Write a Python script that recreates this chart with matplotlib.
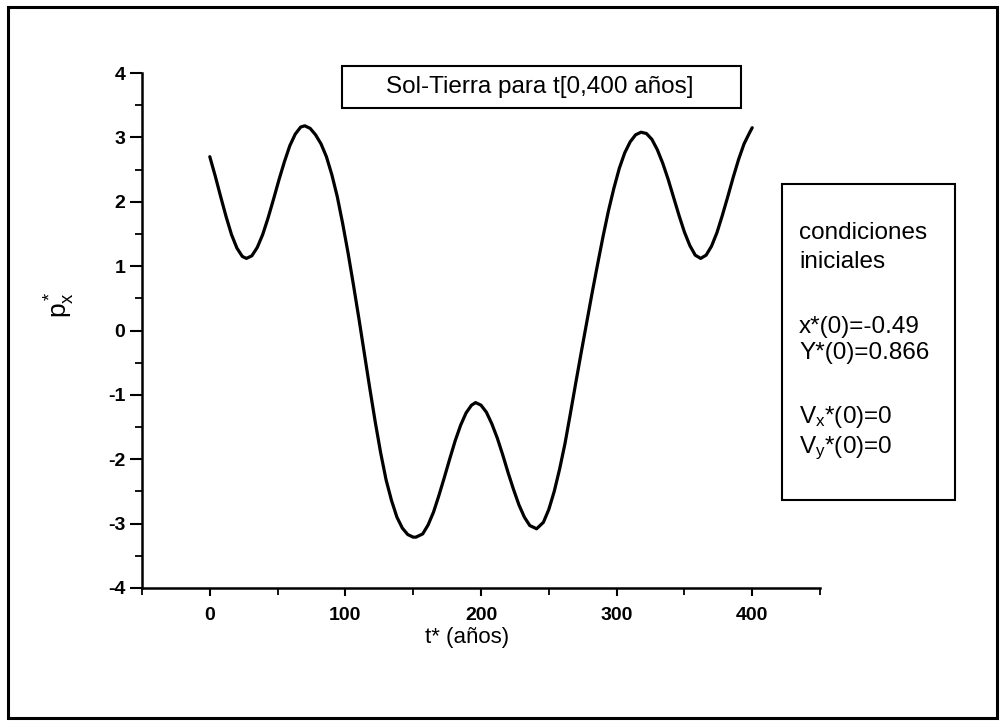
import matplotlib
matplotlib.use("Agg")
import matplotlib.pyplot as plt
from matplotlib.patches import Rectangle
from matplotlib.ticker import MultipleLocator

# ---- data ----
t_years = [0, 4, 8, 12, 16, 20, 24, 27, 31, 35, 39, 43, 47, 51, 55, 59, 63,
           67, 70, 74, 78, 82, 86, 90, 94, 98, 102, 106, 110, 114, 118, 122,
           126, 130, 134, 138, 142, 146, 150, 152, 157, 161, 165, 169, 173,
           177, 181, 185, 189, 193, 196, 200, 204, 208, 212, 216, 220, 224,
           228, 232, 236, 241, 246, 250, 254, 258, 262, 266, 270, 274, 278,
           282, 286, 290, 294, 298, 302, 306, 310, 314, 318, 322, 326, 330,
           334, 338, 342, 346, 350, 354, 358, 362, 366, 370, 374, 378, 382,
           386, 390, 394, 398, 400]
px_star = [2.70, 2.40, 2.08, 1.77, 1.49, 1.28, 1.15, 1.12, 1.16, 1.29, 1.49,
           1.75, 2.04, 2.34, 2.62, 2.87, 3.05, 3.16, 3.18, 3.14, 3.04, 2.90,
           2.70, 2.42, 2.08, 1.66, 1.20, 0.70, 0.18, -0.36, -0.90, -1.42,
           -1.90, -2.32, -2.64, -2.90, -3.07, -3.17, -3.21, -3.21, -3.16,
           -3.02, -2.82, -2.56, -2.28, -1.99, -1.71, -1.47, -1.28, -1.16,
           -1.12, -1.16, -1.27, -1.45, -1.67, -1.93, -2.21, -2.47, -2.71,
           -2.90, -3.03, -3.08, -2.98, -2.78, -2.50, -2.15, -1.75, -1.28,
           -0.80, -0.33, 0.13, 0.59, 1.03, 1.46, 1.86, 2.21, 2.52, 2.76,
           2.93, 3.04, 3.08, 3.06, 2.97, 2.81, 2.60, 2.35, 2.07, 1.79, 1.53,
           1.32, 1.17, 1.12, 1.17, 1.31, 1.52, 1.79, 2.08, 2.38, 2.66, 2.90,
           3.07, 3.15]

x_major_ticks = [0, 100, 200, 300, 400]
y_major_ticks = [-4, -3, -2, -1, 0, 1, 2, 3, 4]

title_text = "Sol-Tierra para t[0,400 años]"
xlabel_text = "t* (años)"
info_lines = [
    ("condiciones", 233),
    ("iniciales", 262),
    ("x*(0)=-0.49", 327),
    ("Y*(0)=0.866", 353),
    (r"$\mathregular{V_x}$*(0)=0", 417),
    (r"$\mathregular{V_y}$*(0)=0", 448),
]

plt.rcParams["font.family"] = ["Liberation Sans", "DejaVu Sans"]
plt.rcParams["mathtext.fontset"] = "custom"
plt.rcParams["mathtext.rm"] = "Liberation Sans"
plt.rcParams["mathtext.it"] = "Liberation Sans"

W, H = 1000, 721
fig = plt.figure(figsize=(W / 100, H / 100), dpi=100)
fig.patch.set_facecolor("white")


def fx(px):
    return px / W


def fy(py):
    return 1 - py / H


# axes placement (pixels): left 142, right 820, top 73, bottom 588
ax = fig.add_axes([fx(142), fy(588), fx(820) - fx(142), fy(73) - fy(588)])
ax.plot(t_years, px_star, color="black", lw=2.3, solid_capstyle="round",
        solid_joinstyle="round")

ax.set_xlim(-50, 450)
ax.set_ylim(-4, 4)
ax.set_xticks(x_major_ticks)
ax.set_yticks(y_major_ticks)
ax.xaxis.set_minor_locator(MultipleLocator(50))
ax.yaxis.set_minor_locator(MultipleLocator(0.5))
ax.set_xticklabels([str(v) for v in x_major_ticks], fontsize=14,
                   fontweight="bold")
ax.set_yticklabels([str(v) for v in y_major_ticks], fontsize=14,
                   fontweight="bold")
ax.tick_params(axis="y", which="major", direction="out", length=9, width=1.5,
               pad=3)
ax.tick_params(axis="y", which="minor", direction="out", length=5, width=1.3)
ax.tick_params(axis="x", which="major", direction="out", length=6, width=1.5,
               pad=8)
ax.tick_params(axis="x", which="minor", direction="out", length=5, width=1.3)
for s in ("top", "right"):
    ax.spines[s].set_visible(False)
for s in ("left", "bottom"):
    ax.spines[s].set_linewidth(1.8)
ax.set_facecolor("none")

# axis labels
fig.text(fx(467), fy(637), xlabel_text, fontsize=16, ha="center",
         va="center")
fig.text(fx(60), fy(305), r"$\mathregular{p^*_x}$", fontsize=19,
         rotation=90, ha="center", va="center")

# title box
fig.patches.append(Rectangle((fx(342), fy(108)), fx(741) - fx(342),
                             fy(66) - fy(108), transform=fig.transFigure,
                             fill=False, edgecolor="black", lw=1.5))
fig.text(fx(540), fy(87), title_text, fontsize=17.5, ha="center",
         va="center")

# info box
fig.patches.append(Rectangle((fx(782), fy(500)), fx(955) - fx(782),
                             fy(184) - fy(500), transform=fig.transFigure,
                             fill=False, edgecolor="black", lw=1.5))
for txt, py in info_lines:
    fig.text(fx(799), fy(py), txt, fontsize=17.5, ha="left", va="center")

# outer frame of the figure
fig.patches.append(Rectangle((fx(8), fy(718)), fx(997) - fx(8),
                             fy(7) - fy(718), transform=fig.transFigure,
                             fill=False, edgecolor="black", lw=2.2))

fig.savefig("out.png", dpi=100)
